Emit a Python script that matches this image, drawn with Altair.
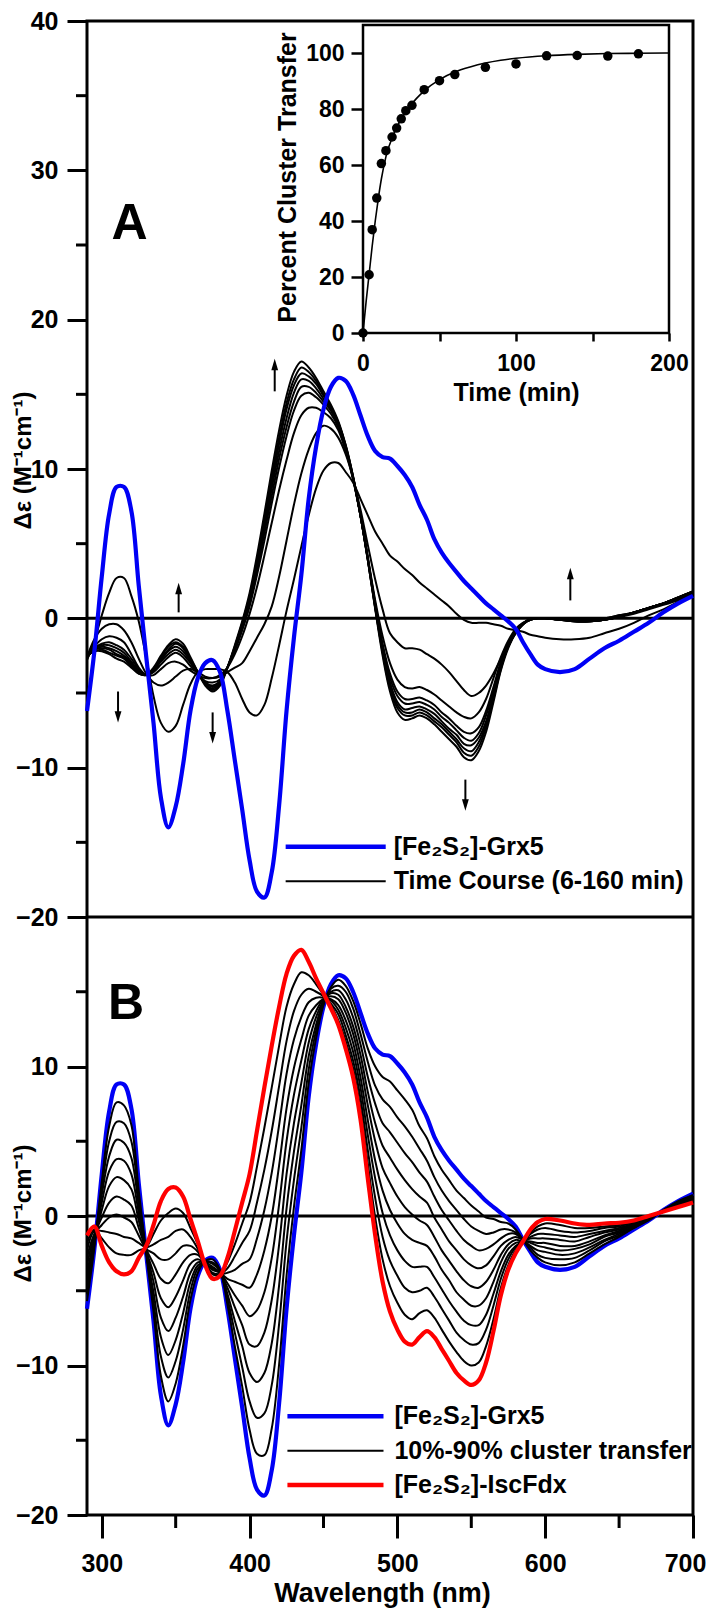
import altair as alt
import pandas as pd

# ---------------- data ----------------
WAVELENGTH = [290, 295, 300, 305, 310, 315, 320, 325, 330, 335, 340, 345, 350, 355, 360,
              365, 370, 375, 380, 385, 390, 395, 400, 405, 410, 415, 420, 425, 430, 435,
              440, 445, 450, 455, 460, 465, 470, 475, 480, 485, 490, 495, 500, 505, 510,
              515, 520, 525, 530, 535, 540, 545, 550, 555, 560, 565, 570, 575, 580, 585,
              590, 595, 600, 610, 620, 630, 640, 650, 660, 670, 680, 690, 700]

GRX5 = [-6.2, -2.2, 2.8, 7.0, 8.8, 8.8, 7.2, 2.2, -2.5, -7.0,
        -12.0, -14.0, -12.6, -9.8, -6.2, -4.0, -3.0, -2.8, -3.6, -6.2,
        -9.5, -12.8, -16.2, -18.3, -18.7, -17.0, -12.5, -6.2, -1.3, 2.9,
        8.0, 11.5, 14.0, 15.5, 16.1, 15.9, 15.0, 13.6, 12.2, 11.2,
        10.8, 10.7, 10.2, 9.6, 8.8, 7.6, 6.6, 5.3, 4.4, 3.7,
        3.1, 2.5, 2.0, 1.5, 1.0, 0.6, 0.2, -0.2, -0.7, -1.6,
        -2.4, -3.1, -3.4,
        -3.6, -3.4, -2.7, -2.0, -1.5, -0.9, -0.3, 0.4, 1.0, 1.5]

ISCFDX = [-1.3, -0.7, -2.0, -3.1, -3.7, -3.9, -3.7, -2.8, -2.0, -0.6,
          1.0, 1.8, 1.9, 1.3, -0.2, -1.7, -3.3, -4.2, -4.0, -2.8,
          -1.0, 0.9, 2.8, 5.7, 8.6, 11.4, 14.0, 16.2, 17.4, 17.8,
          17.0, 15.9, 14.9, 13.9, 12.8, 11.2, 9.3, 6.5, 2.5, -1.3,
          -4.4, -6.4, -7.6, -8.4, -8.6, -8.1, -7.7, -8.1, -8.9, -9.7,
          -10.5, -11.0, -11.3, -11.0, -9.8, -7.7, -5.3, -3.6, -2.5, -1.7,
          -0.9, -0.4, -0.2,
          -0.3, -0.5, -0.6, -0.5, -0.45, -0.3, 0.0, 0.3, 0.6, 0.9]

# Panel A time course (6-160 min): one row per wavelength, 9 spectra
A_TIME_ROWS = [
    [-2.8, -2.6, -2.7, -2.6, -2.6, -2.6, -2.5, -2.5, -2.5],
    [-1.5, -1.4, -1.9, -2.0, -2.1, -2.1, -2.1, -2.2, -2.2],
    [0.2, -0.7, -1.4, -1.7, -1.8, -1.9, -2.0, -2.1, -2.2],
    [1.7, -0.4, -1.2, -1.6, -1.8, -2.0, -2.1, -2.3, -2.4],
    [2.7, -0.4, -1.3, -1.8, -2.0, -2.2, -2.4, -2.5, -2.7],
    [2.7, -0.8, -1.6, -2.1, -2.3, -2.5, -2.6, -2.7, -2.9],
    [1.5, -1.6, -2.4, -2.7, -2.9, -3.0, -3.1, -3.2, -3.3],
    [-0.2, -2.7, -3.3, -3.4, -3.5, -3.6, -3.6, -3.7, -3.7],
    [-2.6, -3.7, -3.8, -3.8, -3.8, -3.8, -3.8, -3.8, -3.8],
    [-5.2, -4.3, -3.8, -3.6, -3.5, -3.5, -3.4, -3.4, -3.3],
    [-7.0, -4.5, -3.4, -3.1, -2.9, -2.8, -2.7, -2.6, -2.5],
    [-7.6, -4.3, -3.0, -2.6, -2.4, -2.2, -2.1, -1.9, -1.8],
    [-7.2, -3.9, -2.9, -2.3, -2.1, -1.9, -1.7, -1.6, -1.4],
    [-5.8, -3.5, -3.1, -2.6, -2.4, -2.2, -2.0, -1.9, -1.7],
    [-4.4, -3.4, -3.5, -3.2, -3.0, -2.9, -2.8, -2.7, -2.6],
    [-3.6, -3.6, -3.8, -3.7, -3.7, -3.7, -3.6, -3.6, -3.6],
    [-3.4, -3.9, -4.0, -4.2, -4.3, -4.3, -4.4, -4.4, -4.5],
    [-3.4, -4.0, -4.0, -4.3, -4.5, -4.6, -4.7, -4.8, -4.9],
    [-3.4, -3.9, -3.8, -4.1, -4.2, -4.3, -4.3, -4.4, -4.5],
    [-3.6, -3.6, -3.3, -3.3, -3.3, -3.3, -3.3, -3.3, -3.3],
    [-4.3, -3.3, -2.4, -2.2, -2.1, -2.0, -1.9, -1.9, -1.8],
    [-5.4, -3.0, -1.2, -0.8, -0.7, -0.5, -0.4, -0.3, -0.2],
    [-6.3, -2.2, 0.3, 0.8, 1.0, 1.2, 1.4, 1.5, 1.7],
    [-6.5, -1.3, 2.1, 2.9, 3.2, 3.5, 3.7, 3.9, 4.2],
    [-5.8, -0.4, 4.2, 5.2, 5.7, 6.0, 6.4, 6.7, 7.0],
    [-4.0, 0.8, 6.4, 7.7, 8.2, 8.7, 9.1, 9.5, 9.9],
    [-1.8, 2.8, 8.6, 10.1, 10.7, 11.2, 11.7, 12.1, 12.6],
    [0.5, 5.2, 10.6, 12.2, 12.8, 13.4, 14.0, 14.4, 14.9],
    [2.6, 7.6, 12.4, 13.9, 14.5, 15.1, 15.6, 16.0, 16.5],
    [4.8, 9.7, 13.6, 14.9, 15.5, 16.0, 16.4, 16.8, 17.2],
    [6.9, 11.3, 14.1, 15.1, 15.5, 15.9, 16.2, 16.5, 16.8],
    [8.7, 12.4, 14.1, 14.8, 15.1, 15.4, 15.7, 15.9, 16.1],
    [9.9, 12.9, 13.8, 14.3, 14.5, 14.7, 14.9, 15.0, 15.2],
    [10.4, 12.7, 13.4, 13.7, 13.9, 14.0, 14.1, 14.2, 14.3],
    [10.4, 12.1, 12.6, 12.8, 12.9, 13.0, 13.1, 13.1, 13.2],
    [9.8, 11.0, 11.2, 11.3, 11.4, 11.5, 11.5, 11.6, 11.6],
    [9.1, 9.4, 9.3, 9.4, 9.4, 9.4, 9.5, 9.5, 9.5],
    [8.0, 7.3, 6.9, 6.9, 6.9, 6.9, 6.9, 6.9, 6.9],
    [6.9, 4.9, 4.1, 4.0, 4.0, 4.0, 3.9, 3.9, 3.9],
    [5.8, 2.6, 1.2, 1.0, 0.9, 0.8, 0.7, 0.7, 0.6],
    [5.0, 0.6, -1.2, -1.7, -1.9, -2.1, -2.2, -2.3, -2.5],
    [4.2, -1.0, -3.0, -3.7, -4.0, -4.3, -4.5, -4.7, -4.9],
    [3.8, -1.6, -4.1, -4.9, -5.2, -5.6, -5.8, -6.0, -6.3],
    [3.3, -2.0, -4.6, -5.4, -5.7, -6.1, -6.3, -6.5, -6.8],
    [2.9, -2.0, -4.7, -5.4, -5.7, -6.0, -6.3, -6.5, -6.7],
    [2.4, -2.1, -4.6, -5.3, -5.6, -5.9, -6.1, -6.3, -6.5],
    [2.0, -2.4, -4.8, -5.5, -5.8, -6.1, -6.3, -6.5, -6.7],
    [1.6, -2.7, -5.1, -5.8, -6.1, -6.4, -6.7, -6.9, -7.1],
    [1.2, -3.1, -5.5, -6.3, -6.6, -6.9, -7.1, -7.3, -7.6],
    [0.8, -3.6, -5.9, -6.7, -7.0, -7.4, -7.6, -7.8, -8.1],
    [0.3, -4.2, -6.3, -7.2, -7.5, -7.8, -8.1, -8.3, -8.6],
    [-0.1, -4.8, -6.6, -7.6, -8.0, -8.4, -8.7, -9.0, -9.3],
    [-0.3, -5.2, -6.7, -7.7, -8.2, -8.5, -8.9, -9.2, -9.5],
    [-0.3, -5.0, -6.3, -7.3, -7.7, -8.0, -8.3, -8.6, -8.9],
    [-0.3, -4.5, -5.4, -6.2, -6.5, -6.9, -7.1, -7.3, -7.6],
    [-0.4, -3.7, -4.0, -4.6, -4.8, -5.1, -5.2, -5.4, -5.6],
    [-0.5, -2.7, -2.6, -2.9, -3.1, -3.2, -3.3, -3.4, -3.5],
    [-0.7, -1.8, -1.5, -1.7, -1.8, -1.8, -1.9, -1.9, -2.0],
    [-0.8, -1.0, -0.7, -0.8, -0.9, -0.9, -0.9, -1.0, -1.0],
    [-0.9, -0.4, -0.3, -0.3, -0.4, -0.4, -0.4, -0.4, -0.4],
    [-1.1, -0.1, -0.1, -0.1, -0.1, 0.0, 0.0, 0.0, 0.0],
    [-1.2, 0.0, 0.0, 0.0, 0.0, 0.0, 0.0, 0.0, 0.0],
    [-1.3, 0.0, 0.0, 0.0, 0.0, 0.0, 0.0, 0.0, 0.0],
    [-1.4, -0.1, 0.0, 0.0, -0.1, -0.1, -0.1, -0.1, -0.1],
    [-1.4, -0.2, -0.1, -0.1, -0.1, -0.2, -0.2, -0.2, -0.2],
    [-1.3, -0.2, -0.1, -0.1, -0.2, -0.2, -0.2, -0.2, -0.2],
    [-1.0, -0.1, 0.0, 0.0, -0.1, -0.1, -0.1, -0.1, -0.1],
    [-0.7, 0.1, 0.2, 0.2, 0.1, 0.1, 0.1, 0.1, 0.1],
    [-0.3, 0.3, 0.4, 0.4, 0.4, 0.4, 0.4, 0.4, 0.4],
    [0.2, 0.6, 0.7, 0.7, 0.7, 0.7, 0.7, 0.7, 0.7],
    [0.6, 0.9, 1.0, 1.0, 1.0, 1.0, 1.0, 1.0, 1.0],
    [1.1, 1.2, 1.3, 1.3, 1.3, 1.4, 1.4, 1.4, 1.4],
    [1.5, 1.6, 1.7, 1.7, 1.7, 1.8, 1.8, 1.8, 1.8],
]

# Panel B 10%-90% cluster transfer spectra: one row per wavelength, 9 spectra
B_MIX_ROWS = [
    [-5.7, -5.2, -4.7, -4.2, -3.8, -3.3, -2.8, -2.3, -1.8],
    [-2.1, -1.9, -1.8, -1.6, -1.5, -1.3, -1.2, -1.0, -0.9],
    [2.3, 1.8, 1.4, 0.9, 0.4, -0.1, -0.6, -1.0, -1.5],
    [6.0, 5.0, 4.0, 3.0, 2.0, 0.9, -0.1, -1.1, -2.1],
    [7.6, 6.3, 5.1, 3.8, 2.6, 1.3, 0.1, -1.2, -2.5],
    [7.4, 6.2, 4.9, 3.7, 2.4, 1.1, -0.1, -1.4, -2.6],
    [6.1, 5.0, 3.9, 2.8, 1.8, 0.7, -0.4, -1.5, -2.6],
    [1.7, 1.2, 0.7, 0.2, -0.3, -0.8, -1.3, -1.8, -2.3],
    [-2.5, -2.4, -2.4, -2.3, -2.3, -2.2, -2.2, -2.1, -2.1],
    [-6.4, -5.7, -5.1, -4.4, -3.8, -3.2, -2.5, -1.9, -1.2],
    [-10.7, -9.4, -8.1, -6.8, -5.5, -4.2, -2.9, -1.6, -0.3],
    [-12.4, -10.8, -9.3, -7.7, -6.1, -4.5, -2.9, -1.4, 0.2],
    [-11.2, -9.7, -8.3, -6.8, -5.4, -3.9, -2.5, -1.0, 0.5],
    [-8.7, -7.6, -6.5, -5.4, -4.3, -3.1, -2.0, -0.9, 0.2],
    [-5.6, -5.0, -4.4, -3.8, -3.2, -2.6, -2.0, -1.4, -0.8],
    [-3.8, -3.5, -3.3, -3.1, -2.9, -2.6, -2.4, -2.2, -1.9],
    [-3.0, -3.1, -3.1, -3.1, -3.2, -3.2, -3.2, -3.2, -3.3],
    [-2.9, -3.1, -3.2, -3.4, -3.5, -3.6, -3.8, -3.9, -4.1],
    [-3.6, -3.7, -3.7, -3.8, -3.8, -3.8, -3.9, -3.9, -4.0],
    [-5.9, -5.5, -5.2, -4.8, -4.5, -4.2, -3.8, -3.5, -3.1],
    [-8.7, -7.8, -7.0, -6.1, -5.3, -4.4, -3.6, -2.7, -1.9],
    [-11.4, -10.1, -8.7, -7.3, -6.0, -4.6, -3.2, -1.8, -0.5],
    [-14.3, -12.4, -10.5, -8.6, -6.7, -4.8, -2.9, -1.0, 0.9],
    [-15.9, -13.5, -11.1, -8.7, -6.3, -3.9, -1.5, 0.9, 3.3],
    [-16.0, -13.2, -10.5, -7.8, -5.1, -2.3, 0.4, 3.1, 5.9],
    [-14.2, -11.3, -8.5, -5.6, -2.8, 0.0, 2.9, 5.7, 8.6],
    [-9.9, -7.2, -4.6, -1.9, 0.8, 3.4, 6.1, 8.7, 11.4],
    [-4.0, -1.7, 0.5, 2.8, 5.0, 7.2, 9.5, 11.7, 14.0],
    [0.6, 2.4, 4.3, 6.2, 8.1, 9.9, 11.8, 13.7, 15.5],
    [4.4, 5.9, 7.4, 8.9, 10.4, 11.8, 13.3, 14.8, 16.3],
    [8.9, 9.8, 10.7, 11.6, 12.5, 13.4, 14.3, 15.2, 16.1],
    [11.9, 12.4, 12.8, 13.3, 13.7, 14.1, 14.6, 15.0, 15.5],
    [14.1, 14.2, 14.3, 14.4, 14.5, 14.5, 14.6, 14.7, 14.8],
    [15.3, 15.2, 15.0, 14.9, 14.7, 14.5, 14.4, 14.2, 14.1],
    [15.8, 15.4, 15.1, 14.8, 14.5, 14.1, 13.8, 13.5, 13.1],
    [15.4, 15.0, 14.5, 14.0, 13.6, 13.1, 12.6, 12.1, 11.7],
    [14.4, 13.9, 13.3, 12.7, 12.2, 11.6, 11.0, 10.4, 9.9],
    [12.9, 12.2, 11.5, 10.8, 10.1, 9.3, 8.6, 7.9, 7.2],
    [11.2, 10.3, 9.3, 8.3, 7.4, 6.4, 5.4, 4.4, 3.5],
    [10.0, 8.7, 7.5, 6.2, 5.0, 3.7, 2.5, 1.2, -0.1],
    [9.3, 7.8, 6.2, 4.7, 3.2, 1.7, 0.2, -1.4, -2.9],
    [9.0, 7.3, 5.6, 3.9, 2.2, 0.4, -1.3, -3.0, -4.7],
    [8.4, 6.6, 4.9, 3.1, 1.3, -0.5, -2.3, -4.0, -5.8],
    [7.8, 6.0, 4.2, 2.4, 0.6, -1.2, -3.0, -4.8, -6.6],
    [7.1, 5.3, 3.6, 1.8, 0.1, -1.6, -3.4, -5.1, -6.9],
    [6.0, 4.5, 2.9, 1.3, -0.3, -1.8, -3.4, -5.0, -6.5],
    [5.2, 3.7, 2.3, 0.9, -0.6, -2.0, -3.4, -4.8, -6.3],
    [4.0, 2.6, 1.3, -0.1, -1.4, -2.7, -4.1, -5.4, -6.8],
    [3.1, 1.7, 0.4, -0.9, -2.3, -3.6, -4.9, -6.2, -7.6],
    [2.4, 1.0, -0.3, -1.7, -3.0, -4.3, -5.7, -7.0, -8.4],
    [1.7, 0.4, -1.0, -2.3, -3.7, -5.1, -6.4, -7.8, -9.1],
    [1.2, -0.2, -1.6, -2.9, -4.3, -5.6, -7.0, -8.3, -9.7],
    [0.7, -0.7, -2.0, -3.3, -4.7, -6.0, -7.3, -8.6, -10.0],
    [0.3, -1.0, -2.3, -3.5, -4.8, -6.0, -7.3, -8.5, -9.8],
    [-0.1, -1.2, -2.2, -3.3, -4.4, -5.5, -6.6, -7.6, -8.7],
    [-0.2, -1.1, -1.9, -2.7, -3.6, -4.4, -5.2, -6.0, -6.9],
    [-0.4, -0.9, -1.5, -2.0, -2.6, -3.1, -3.7, -4.2, -4.8],
    [-0.5, -0.9, -1.2, -1.6, -1.9, -2.2, -2.6, -2.9, -3.3],
    [-0.9, -1.1, -1.2, -1.4, -1.6, -1.8, -2.0, -2.1, -2.3],
    [-1.6, -1.6, -1.6, -1.6, -1.7, -1.7, -1.7, -1.7, -1.7],
    [-2.3, -2.1, -2.0, -1.8, -1.7, -1.5, -1.4, -1.2, -1.1],
    [-2.8, -2.6, -2.3, -2.0, -1.8, -1.5, -1.2, -0.9, -0.7],
    [-3.1, -2.8, -2.4, -2.1, -1.8, -1.5, -1.2, -0.8, -0.5],
    [-3.3, -2.9, -2.6, -2.3, -2.0, -1.6, -1.3, -1.0, -0.6],
    [-3.1, -2.8, -2.5, -2.2, -2.0, -1.7, -1.4, -1.1, -0.8],
    [-2.5, -2.3, -2.1, -1.9, -1.7, -1.4, -1.2, -1.0, -0.8],
    [-1.9, -1.7, -1.6, -1.4, -1.3, -1.1, -1.0, -0.8, -0.7],
    [-1.4, -1.3, -1.2, -1.1, -1.0, -0.9, -0.8, -0.7, -0.6],
    [-0.8, -0.8, -0.7, -0.7, -0.6, -0.5, -0.5, -0.4, -0.4],
    [-0.3, -0.2, -0.2, -0.2, -0.2, -0.1, -0.1, -0.1, 0.0],
    [0.4, 0.4, 0.4, 0.4, 0.4, 0.3, 0.3, 0.3, 0.3],
    [1.0, 0.9, 0.9, 0.8, 0.8, 0.8, 0.7, 0.7, 0.6],
    [1.4, 1.4, 1.3, 1.3, 1.2, 1.1, 1.1, 1.0, 1.0],
]

# inset: percent cluster transfer vs time
INSET_T = [0, 4, 6, 9, 12, 15, 19, 22, 25, 28, 32, 40, 50, 60, 80, 100, 120, 140, 160, 180]
INSET_PCT = [0, 20.8, 36.9, 48.2, 60.5, 65.1, 70.0, 73.2, 76.5, 79.4, 81.3, 86.9, 90.1,
             92.3, 94.9, 96.1, 99.0, 99.1, 98.9, 99.7]
FIT_T = [0, 2, 4, 6, 8, 10, 12, 15, 20, 25, 30, 35, 40, 50, 60, 70, 80, 90, 100, 120,
         140, 160, 180, 200]
FIT_PCT = [0, 11, 21, 31, 40, 48, 55, 63, 71, 76.5, 80.5, 83.8, 86.5, 90.5, 93.2, 95.0,
           96.4, 97.4, 98.1, 99.0, 99.5, 99.8, 99.9, 100]

# arrows in panel A (wavelength, tail value, head value)
ARROW_WL = [311, 352, 375, 417, 546, 617]
ARROW_FROM = [-4.9, 0.4, -6.3, 15.2, -10.8, 1.2]
ARROW_TO = [-6.6, 2.0, -8.0, 17.0, -12.5, 3.0]

A_MINOR = [-15, -5, 5, 15, 25, 35]
B_MINOR = [-15, -5, 5, 15]
X_MINOR = [350, 450, 550, 650]

LEGEND_A = ["[Fe\u2082S\u2082]-Grx5", "Time Course (6-160 min)"]
LEGEND_B = ["[Fe\u2082S\u2082]-Grx5", "10%-90% cluster transfer", "[Fe\u2082S\u2082]-IscFdx"]

# ---------------- style ----------------
FONT = "Liberation Sans"
BLUE = "#0000f5"
RED = "#ff0000"
W, HA, HB = 606, 896, 598
H = HA + HB
YTITLE = "\u0394\u03b5 (M\u207b\u00b9cm\u207b\u00b9)"
LINE_INTERP = "catmull-rom"


def xsc():
    return alt.Scale(domain=[290, 700], nice=False, zero=False)


def ysa():
    return alt.Scale(domain=[-20, 40], range=[HA, 0], nice=False, zero=False)


def ysb():
    return alt.Scale(domain=[-20, 20], range=[H, HA], nice=False, zero=False)


def xin():
    return alt.Scale(domain=[0, 200], range=[276, 582], nice=False, zero=False)


def yin():
    return alt.Scale(domain=[0, 110], range=[312, 4], nice=False, zero=False)


LAB = dict(labelFont=FONT, labelFontWeight="bold", labelColor="black",
           titleFont=FONT, titleFontWeight="bold", titleColor="black",
           tickColor="black", grid=False, domain=False, labelOverlap=False)


def y_axis(values, title_y):
    return alt.Axis(orient="left", values=values, tickSize=20, tickWidth=3, labelPadding=9,
                    labelFontSize=25, title=YTITLE, titleFontSize=24, titleX=-64,
                    titleY=title_y, titleBaseline="middle", **LAB)


AYA = y_axis([-20, -10, 0, 10, 20, 30, 40], 439)
AYB = y_axis([-20, -10, 0, 10], 1192)
AXB = alt.Axis(orient="bottom", values=[300, 400, 500, 600, 700], tickSize=23, tickWidth=3,
               labelPadding=13, labelFontSize=25, labelFlush=False,
               labelOffset={"condition": {"test": "datum.value === 700", "value": -8},
                            "value": 0},
               title="Wavelength (nm)", titleFontSize=27, titlePadding=4, titleX=295, **LAB)
AX_IN_X = alt.Axis(orient="bottom", offset=-(H - 312), values=[0, 50, 100, 150, 200],
                   labelExpr="datum.value % 100 === 0 ? datum.label : ''",
                   tickSize=8, tickWidth=2.5, labelPadding=11, labelFontSize=23,
                   labelFlush=False, title="Time (min)", titleFontSize=25, titlePadding=5, **LAB)
AX_IN_Y = alt.Axis(orient="left", offset=-276, values=[0, 20, 40, 60, 80, 100], tickSize=12,
                   tickWidth=2.5, labelPadding=7, labelFontSize=23,
                   title="Percent Cluster Transfer", titleFontSize=25, titleX=-76, titleY=156,
                   titleBaseline="middle", **LAB)


def long_table(rows, prefix):
    recs = []
    for i, wl in enumerate(WAVELENGTH):
        for j, v in enumerate(rows[i]):
            recs.append({"wl": wl, "v": v, "curve": f"{prefix}{j}"})
    return pd.DataFrame(recs)


blue_df = pd.DataFrame({"wl": WAVELENGTH, "v": GRX5})
red_df = pd.DataFrame({"wl": WAVELENGTH, "v": ISCFDX})
a_df = long_table(A_TIME_ROWS, "t")
b_df = long_table(B_MIX_ROWS, "m")
zero_df = pd.DataFrame({"x0": [290], "x1": [700], "y": [0]})
sep_df = pd.DataFrame({"x0": [290], "x1": [700], "y": [-20]})

UP = "M0,-1L0.6,1L-0.6,1Z"
DOWN = "M0,1L0.6,-1L-0.6,-1Z"
arrow_df = pd.DataFrame({"wl": ARROW_WL, "y0": ARROW_FROM, "y1": ARROW_TO})
arrow_df["shape"] = [UP if b > a else DOWN for a, b in zip(ARROW_FROM, ARROW_TO)]


def encoders(ysc, yax, xax):
    X = lambda f: alt.X(f, type="quantitative", scale=xsc(), axis=xax)
    Y = lambda f: alt.Y(f, type="quantitative", scale=ysc(), axis=yax)
    return X, Y


def text_mark(size, align="left"):
    return dict(align=align, baseline="middle", font=FONT, fontSize=size, fontWeight="bold",
                color="black")


# ---------------- panel A ----------------
XA, YA = encoders(ysa, AYA, None)
a_sep = alt.Chart(sep_df).mark_rule(color="black", strokeWidth=3).encode(
    x=XA("x0"), x2="x1:Q", y=YA("y"))
a_zero = alt.Chart(zero_df).mark_rule(color="black", strokeWidth=3).encode(
    x=XA("x0"), x2="x1:Q", y=YA("y"))
a_black = alt.Chart(a_df).mark_line(color="black", strokeWidth=2, interpolate=LINE_INTERP).encode(
    x=XA("wl"), y=YA("v"), detail="curve:N")
a_blue = alt.Chart(blue_df).mark_line(color=BLUE, strokeWidth=4.2, interpolate=LINE_INTERP).encode(
    x=XA("wl"), y=YA("v"))
a_shaft = alt.Chart(arrow_df).mark_rule(color="black", strokeWidth=2).encode(
    x=XA("wl"), y=YA("y0"), y2="y1:Q")
a_head = alt.Chart(arrow_df).mark_point(filled=True, color="black", size=130, opacity=1).encode(
    x=XA("wl"), y=YA("y1"), shape=alt.Shape("shape:N", scale=None))
a_minor = alt.Chart(pd.DataFrame({"y": A_MINOR})).mark_rule(color="black", strokeWidth=3).encode(
    y=YA("y"), x=alt.value(-11), x2=alt.value(0))
leg_a_df = pd.DataFrame({"x0": [424.4, 424.4], "x1": [492.1, 492.1], "y": [-15.3, -17.6],
                         "c": [BLUE, "black"], "w": [4.5, 2.0], "xt": [497.5, 497.5],
                         "label": LEGEND_A})
a_leg_line = alt.Chart(leg_a_df).mark_rule().encode(
    x=XA("x0"), x2="x1:Q", y=YA("y"), color=alt.Color("c:N", scale=None),
    strokeWidth=alt.StrokeWidth("w:Q", scale=None))
a_leg_text = alt.Chart(leg_a_df).mark_text(**text_mark(25)).encode(
    x=XA("xt"), y=YA("y"), text="label:N")
a_letter = alt.Chart(pd.DataFrame({"x": [318.8], "y": [26.4], "t": ["A"]})).mark_text(
    **text_mark(50, "center")).encode(x=XA("x"), y=YA("y"), text="t:N")

layer_a = alt.layer(a_sep, a_zero, a_black, a_blue, a_shaft, a_head, a_minor, a_leg_line,
                    a_leg_text, a_letter)

# ---------------- inset ----------------
in_box = alt.Chart(pd.DataFrame({"t0": [0], "t1": [200], "p0": [0], "p1": [110]})).mark_rect(
    fillOpacity=0, stroke="black", strokeWidth=2.5).encode(
    x=alt.X("t0:Q", scale=xin(), axis=AX_IN_X), x2="t1:Q",
    y=alt.Y("p0:Q", scale=yin(), axis=AX_IN_Y), y2="p1:Q")
in_fit = alt.Chart(pd.DataFrame({"t": FIT_T, "p": FIT_PCT})).mark_line(
    color="black", strokeWidth=1.6, interpolate="monotone").encode(
    x=alt.X("t:Q", scale=xin(), axis=AX_IN_X), y=alt.Y("p:Q", scale=yin(), axis=AX_IN_Y))
in_pts = alt.Chart(pd.DataFrame({"t": INSET_T, "p": INSET_PCT})).mark_circle(
    size=90, color="black", opacity=1).encode(
    x=alt.X("t:Q", scale=xin(), axis=AX_IN_X), y=alt.Y("p:Q", scale=yin(), axis=AX_IN_Y))
inset = alt.layer(in_box, in_fit, in_pts)

# ---------------- panel B ----------------
XB, YB = encoders(ysb, AYB, AXB)
b_zero = alt.Chart(zero_df).mark_rule(color="black", strokeWidth=3).encode(
    x=XB("x0"), x2="x1:Q", y=YB("y"))
b_blue = alt.Chart(blue_df).mark_line(color=BLUE, strokeWidth=4.2, interpolate=LINE_INTERP).encode(
    x=XB("wl"), y=YB("v"))
b_black = alt.Chart(b_df).mark_line(color="black", strokeWidth=2, interpolate=LINE_INTERP).encode(
    x=XB("wl"), y=YB("v"), detail="curve:N")
b_red = alt.Chart(red_df).mark_line(color=RED, strokeWidth=4.2, interpolate=LINE_INTERP).encode(
    x=XB("wl"), y=YB("v"))
b_minor_y = alt.Chart(pd.DataFrame({"y": B_MINOR})).mark_rule(color="black", strokeWidth=3).encode(
    y=YB("y"), x=alt.value(-11), x2=alt.value(0))
b_minor_x = alt.Chart(pd.DataFrame({"x": X_MINOR})).mark_rule(color="black", strokeWidth=3).encode(
    x=XB("x"), y=alt.value(H), y2=alt.value(H + 13))
leg_b_df = pd.DataFrame({"x0": [425.6] * 3, "x1": [490.6] * 3, "y": [-13.4, -15.7, -18.0],
                         "c": [BLUE, "black", RED], "w": [4.5, 2.0, 4.5], "xt": [498.0] * 3,
                         "label": LEGEND_B})
b_leg_line = alt.Chart(leg_b_df).mark_rule().encode(
    x=XB("x0"), x2="x1:Q", y=YB("y"), color=alt.Color("c:N", scale=None),
    strokeWidth=alt.StrokeWidth("w:Q", scale=None))
b_leg_text = alt.Chart(leg_b_df).mark_text(**text_mark(25)).encode(
    x=XB("xt"), y=YB("y"), text="label:N")
b_letter = alt.Chart(pd.DataFrame({"x": [316.4], "y": [14.2], "t": ["B"]})).mark_text(
    **text_mark(50, "center")).encode(x=XB("x"), y=YB("y"), text="t:N")

layer_b = alt.layer(b_zero, b_blue, b_black, b_red, b_minor_y, b_minor_x, b_leg_line,
                    b_leg_text, b_letter)

chart = alt.layer(layer_a, layer_b, inset).resolve_scale(
    x="independent", y="independent"
).properties(
    width=W, height=H,
    padding={"left": 79, "top": 13, "right": 14, "bottom": 99},
    autosize=alt.AutoSizeParams(type="none"),
    background="white",
).configure_view(stroke="black", strokeWidth=3)

chart.save("out.html", embed_options={"renderer": "svg", "actions": False})
